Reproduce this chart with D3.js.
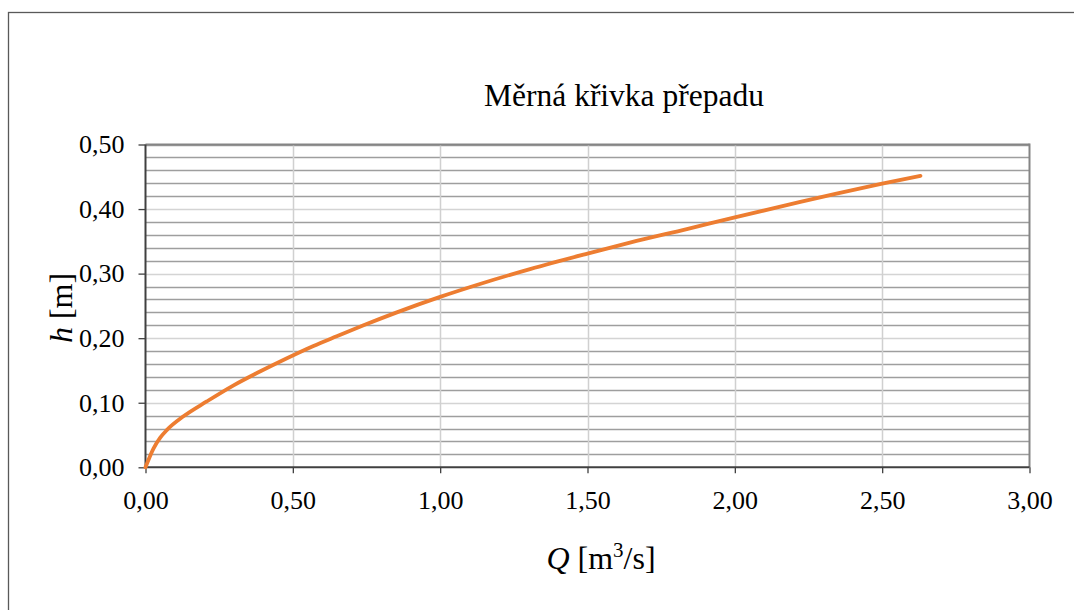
<!DOCTYPE html>
<html><head><meta charset="utf-8">
<script src="https://cdn.jsdelivr.net/npm/d3@7"></script>
<style>
html,body{margin:0;padding:0;background:#fff;}
svg{display:block;font-family:"Liberation Serif","Times New Roman",serif;}
</style></head>
<body>
<svg id="c" width="1074" height="610"></svg>
<script>
const title = "Měrná křivka přepadu";
const qValues = [0, 0.027, 0.050, 0.073, 0.129, 0.208, 0.299, 0.378, 0.480, 0.570, 0.649, 0.740, 0.853, 1.000, 1.135, 1.305, 1.500, 1.644, 1.837, 2.000, 2.176, 2.345, 2.500, 2.630];
const hValues = [0, 0.029, 0.046, 0.058, 0.079, 0.102, 0.127, 0.146, 0.169, 0.188, 0.203, 0.220, 0.240, 0.264, 0.284, 0.307, 0.331, 0.348, 0.369, 0.387, 0.406, 0.424, 0.4395, 0.4515];
const xTicks = [0, 0.5, 1.0, 1.5, 2.0, 2.5, 3.0];
const yTicks = [0, 0.1, 0.2, 0.3, 0.4, 0.5];
const yMinor = d3.range(0, 0.5001, 0.02);

const svg = d3.select("#c");
const L = 145.5, R = 1029.5, T = 144.5, B = 467.3;
const x = d3.scaleLinear().domain([0, 3]).range([L, R]);
const y = d3.scaleLinear().domain([0, 0.5]).range([B, T]);
const fmt = v => d3.format(".2f")(v).replace(".", ",");

// outer chart border
svg.append("rect").attr("x", 8.5).attr("y", 12.5).attr("width", 1100).attr("height", 700)
  .attr("fill", "none").attr("stroke", "#595959").attr("stroke-width", 1.3);

// horizontal gridlines (minor darker, major lighter)
svg.append("g").selectAll("line").data(yMinor.slice(1)).join("line")
  .attr("x1", L).attr("x2", R)
  .attr("y1", d => Math.round(y(d)) + 0.5).attr("y2", d => Math.round(y(d)) + 0.5)
  .attr("stroke", d => (Math.abs(d * 10 - Math.round(d * 10)) < 1e-6 && d < 0.499) ? "#d4d4d4" : "#9e9e9e")
  .attr("stroke-width", 1.5);

// vertical gridlines
svg.append("g").selectAll("line").data(xTicks.slice(1, -1)).join("line")
  .attr("x1", d => Math.round(x(d)) + 0.5).attr("x2", d => Math.round(x(d)) + 0.5)
  .attr("y1", T).attr("y2", B)
  .attr("stroke", "#d0d0d0").attr("stroke-width", 1.5);

// plot border top/right
svg.append("line").attr("x1", L).attr("x2", R).attr("y1", T).attr("y2", T).attr("stroke", "#858585").attr("stroke-width", 2);
svg.append("line").attr("x1", R).attr("x2", R).attr("y1", T - 1).attr("y2", B).attr("stroke", "#858585").attr("stroke-width", 2);

// axes
const xAxis = d3.axisBottom(x).tickValues(xTicks).tickFormat(fmt).tickSize(6).tickPadding(17);
const gx = svg.append("g").attr("transform", `translate(0,${B})`).call(xAxis);
const yAxis = d3.axisLeft(y).tickValues(yTicks).tickFormat(fmt).tickSize(7).tickPadding(14);
const gy = svg.append("g").attr("transform", `translate(${L},0)`).call(yAxis);
[gx, gy].forEach(g => {
  g.select(".domain").attr("stroke", "#404040").attr("stroke-width", 2);
  g.selectAll(".tick line").attr("stroke", "#404040").attr("stroke-width", 1.3);
  g.selectAll(".tick text").attr("font-family", "Liberation Serif, Times New Roman, serif")
    .attr("font-size", 26).attr("fill", "#000");
});
gx.select(".domain").attr("d", `M${L},0H${R}`);
gy.select(".domain").attr("d", `M0,${B}V${T}`);

// curve
const pts = qValues.map((q, i) => [q, hValues[i]]);
svg.append("path").datum(pts)
  .attr("fill", "none").attr("stroke", "#ED7D31").attr("stroke-width", 3.8)
  .attr("stroke-linecap", "round").attr("stroke-linejoin", "round")
  .attr("d", d3.line().x(d => x(d[0])).y(d => y(d[1])).curve(d3.curveMonotoneX));

// title
svg.append("text").attr("x", 624).attr("y", 106).attr("text-anchor", "middle")
  .attr("font-size", 31.5).attr("fill", "#000").text(title);

// x axis title
const xt = svg.append("text").attr("x", 601).attr("y", 569).attr("text-anchor", "middle")
  .attr("font-size", 32).attr("fill", "#000");
xt.append("tspan").attr("font-style", "italic").text("Q");
xt.append("tspan").text(" [m");
xt.append("tspan").attr("font-size", 21).attr("dy", -12).text("3");
xt.append("tspan").attr("dy", 12).text("/s]");

// y axis title
const yt = svg.append("text").attr("transform", "translate(72,308) rotate(-90)")
  .attr("text-anchor", "middle").attr("font-size", 32).attr("fill", "#000");
yt.append("tspan").attr("font-style", "italic").text("h");
yt.append("tspan").text(" [m]");
</script>
</body></html>
